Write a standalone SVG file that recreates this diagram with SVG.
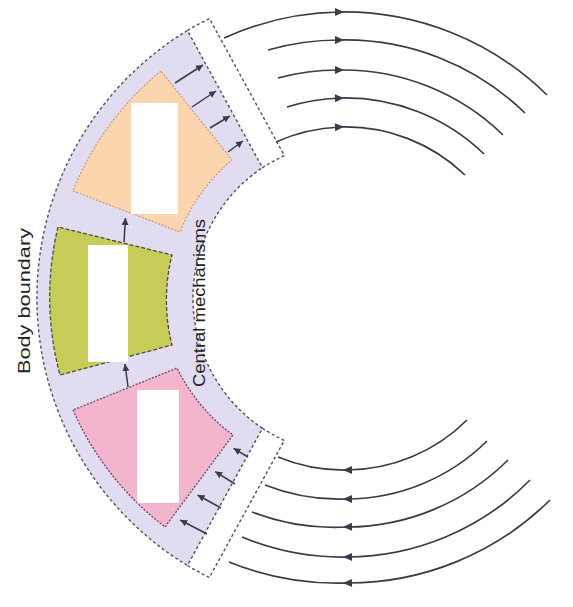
<svg xmlns="http://www.w3.org/2000/svg" width="573" height="607" viewBox="0 0 573 607">
<defs>
<style>
.dash{fill:none;stroke:#55505f;stroke-width:1.4;stroke-dasharray:3 2.5}
.flow{fill:none;stroke:#3d3949;stroke-width:1.7;marker-mid:url(#ah)}
.arr{fill:none;stroke:#3d3949;stroke-width:1.5;marker-end:url(#sa)}
.lbl{font-family:"Liberation Sans",Arial,sans-serif;font-size:17px;fill:#222}
.hole{fill:#ffffff}
</style>
<marker id="ah" viewBox="-6 -5 12 10" refX="0" refY="0" markerWidth="12" markerHeight="10" orient="auto" markerUnits="userSpaceOnUse">
<path d="M-5,-4 L4,0 L-5,4 Z" fill="#3d3949"/>
</marker>
<marker id="sa" viewBox="-7 -4 8 8" refX="0" refY="0" markerWidth="8" markerHeight="8" orient="auto" markerUnits="userSpaceOnUse">
<path d="M-7,-3.5 L0,0 L-7,3.5 Z" fill="#3d3949"/>
</marker>
</defs>
<rect width="573" height="607" fill="#ffffff"/>
<g id="band">
<path d="M187.4,30.5 A313,313 0 0 0 187.4,565.5 L262.4,428.3 A157,157 0 0 1 262.4,167.7 Z" fill="#e2dcf0"/>
<path class="dash" d="M187.4,30.5 A313,313 0 0 0 187.4,565.5"/>
<path class="dash" d="M262.4,428.3 A157,157 0 0 1 262.4,167.7"/>
</g>
<g id="strip-top">
<path class="dash" d="M187.4,30.5 A313,313 0 0 1 209.4,18.5 L284.4,155.7 A157,157 0 0 0 262.4,167.7 Z"/>
</g>
<g id="strip-bottom">
<path class="dash" d="M187.4,565.5 A313,313 0 0 0 209.4,577.5 L284.4,440.3 A157,157 0 0 1 262.4,428.3 Z"/>
</g>
<g id="node-orange">
<path d="M161,71 A296,296 0 0 0 73,191 L180,232 A182,182 0 0 1 232,160 Z" fill="#fad5ae" stroke="#c99a7a" stroke-width="1.2" stroke-dasharray="2 1.5"/>
<rect class="hole" x="131" y="103" width="47" height="111"/>
</g>
<g id="node-green">
<path d="M58,227 A300,300 0 0 0 60,375 L172,345 A184,184 0 0 1 172,255 Z" fill="#c6cc58" stroke="#4d4c3c" stroke-width="1.3" stroke-dasharray="4 2"/>
<rect class="hole" x="88" y="245" width="40" height="117"/>
</g>
<g id="node-pink">
<path d="M73,410 A298,298 0 0 0 165,527 L233,435 A182,182 0 0 1 177,368 Z" fill="#f2b5cd" stroke="#6b4a63" stroke-width="1.3" stroke-dasharray="2 1.5"/>
<rect class="hole" x="137" y="390" width="42" height="113"/>
</g>
<g id="labels">
<text class="lbl" transform="translate(30,301) rotate(-90)" text-anchor="middle" textLength="146" lengthAdjust="spacingAndGlyphs">Body boundary</text>
<text class="lbl" transform="translate(205,303) rotate(-90)" text-anchor="middle" textLength="168" lengthAdjust="spacingAndGlyphs">Central mechanisms</text>
</g>
<g id="connectors">
<path class="flow" d="M224,38 A290,290 0 0 1 340,12 A290,290 0 0 1 547,95"/>
<path class="flow" d="M268,50 A258,258 0 0 1 340,40 A258,258 0 0 1 525,113"/>
<path class="flow" d="M278,78 A229,229 0 0 1 340,70 A229,229 0 0 1 503,135"/>
<path class="flow" d="M287,107 A200,200 0 0 1 340,98 A200,200 0 0 1 484,154"/>
<path class="flow" d="M276,142 A172,172 0 0 1 340,127 A172,172 0 0 1 465,175"/>
<path class="flow" d="M467,420 A172,172 0 0 1 347,470 A172,172 0 0 1 278,457"/>
<path class="flow" d="M487,441 A201,201 0 0 1 347,499 A201,201 0 0 1 265,485"/>
<path class="flow" d="M508,460 A230,230 0 0 1 347,527 A230,230 0 0 1 252,512"/>
<path class="flow" d="M530,480 A259,259 0 0 1 347,557 A259,259 0 0 1 242,537"/>
<path class="flow" d="M550,500 A287,287 0 0 1 347,583 A287,287 0 0 1 229,562"/>
<path class="arr" d="M175,83 L203,65"/>
<path class="arr" d="M192,107 L216,91"/>
<path class="arr" d="M210,128 L230,116"/>
<path class="arr" d="M228,152 L243,141"/>
<path class="arr" d="M248,457 L233.6,448.3"/>
<path class="arr" d="M235,484 L215.2,471.6"/>
<path class="arr" d="M221,508 L197.6,495"/>
<path class="arr" d="M207,534 L180.2,520"/>
<path class="arr" d="M124,242 L125.5,218"/>
<path class="arr" d="M128,387 L125,364"/>
</g>
</svg>
